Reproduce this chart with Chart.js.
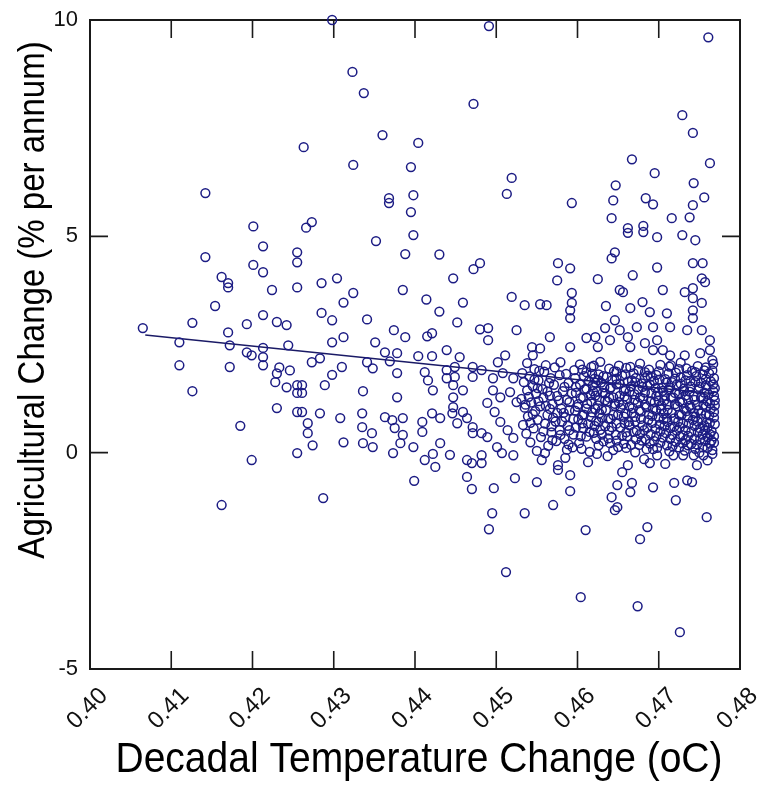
<!DOCTYPE html>
<html>
<head>
<meta charset="utf-8">
<title>Agricultural Change vs Decadal Temperature Change</title>
<script src="https://cdn.jsdelivr.net/npm/chart.js@4.4.1/dist/chart.umd.min.js"></script>
<style>
  html, body { margin: 0; padding: 0; background: #fff; }
  canvas { display: block; }
</style>
</head>
<body>
<canvas id="grafico" width="758" height="785"></canvas>
<script>
// =================== DADOS ===================
const xTickValues = [0.40, 0.41, 0.42, 0.43, 0.44, 0.45, 0.46, 0.47, 0.48];
const yTickValues = [-5, 0, 5, 10];
const xTitle = 'Decadal Temperature Change (oC)';
const yTitle = 'Agricultural Change (% per annum)';

// linha de tendência (extremos)
const fitTemp = [0.4068, 0.4768];
const fitAgri = [2.72, 1.36];

// pontos acima de zero, fora do aglomerado
const upperObs = [
  [0.4142, 6.00], [0.4201, 5.23], [0.4263, 7.06], [0.4298, 10.0], [0.4323, 8.80], [0.4337, 8.31],
  [0.4491, 9.86], [0.4472, 8.06], [0.4360, 7.34], [0.4404, 7.16], [0.4324, 6.65], [0.4395, 6.60],
  [0.4519, 6.35], [0.4513, 5.98], [0.4368, 5.88], [0.4368, 5.77], [0.4398, 5.95], [0.4395, 5.56],
  [0.4273, 5.33], [0.4266, 5.20], [0.4761, 9.60], [0.4729, 7.80], [0.4742, 7.39], [0.4667, 6.78],
  [0.4763, 6.69], [0.4695, 6.46], [0.4647, 6.18], [0.4743, 6.23], [0.4756, 5.90], [0.4593, 5.77],
  [0.4644, 5.83], [0.4684, 5.88], [0.4693, 5.74], [0.4742, 5.72], [0.4642, 5.42], [0.4716, 5.42],
  [0.4738, 5.44], [0.4662, 5.19], [0.4681, 5.24]
];

const westObs = [
  [0.4142, 4.52], [0.4162, 4.06], [0.4170, 3.92], [0.4170, 3.82], [0.4213, 4.77], [0.4201, 4.34],
  [0.4213, 4.17], [0.4224, 3.76], [0.4255, 4.63], [0.4255, 4.40], [0.4255, 3.82], [0.4154, 3.39],
  [0.4126, 3.00], [0.4193, 2.97], [0.4213, 3.18], [0.4230, 3.02], [0.4242, 2.95], [0.4065, 2.88],
  [0.4110, 2.55], [0.4170, 2.78], [0.4172, 2.48], [0.4193, 2.32], [0.4199, 2.25], [0.4213, 2.42],
  [0.4213, 2.21], [0.4213, 2.02], [0.4244, 2.48], [0.4233, 1.97], [0.4230, 1.83], [0.4246, 1.90],
  [0.4228, 1.63], [0.4242, 1.51], [0.4255, 1.56], [0.4255, 1.38], [0.4110, 2.02], [0.4172, 1.98],
  [0.4126, 1.42], [0.4230, 1.03], [0.4255, 0.94], [0.4185, 0.62]
];

const middleObs = [
  [0.4352, 4.89], [0.4398, 5.03], [0.4388, 4.59], [0.4430, 4.58], [0.4472, 4.24], [0.4480, 4.38],
  [0.4447, 4.03], [0.4285, 3.92], [0.4304, 4.03], [0.4385, 3.76], [0.4312, 3.47], [0.4324, 3.69],
  [0.4414, 3.54], [0.4459, 3.47], [0.4430, 3.26], [0.4519, 3.60], [0.4285, 3.23], [0.4298, 3.06],
  [0.4341, 3.08], [0.4452, 3.01], [0.4374, 2.83], [0.4388, 2.67], [0.4415, 2.69], [0.4421, 2.76],
  [0.4480, 2.85], [0.4490, 2.88], [0.4490, 2.60], [0.4525, 2.83], [0.4298, 2.55], [0.4312, 2.67],
  [0.4351, 2.55], [0.4273, 2.09], [0.4283, 2.18], [0.4341, 2.09], [0.4348, 1.95], [0.4363, 2.32],
  [0.4378, 2.30], [0.4369, 2.11], [0.4404, 2.23], [0.4421, 2.23], [0.4439, 2.37], [0.4455, 2.21],
  [0.4511, 2.25], [0.4502, 2.09], [0.4310, 1.98], [0.4298, 1.80], [0.4378, 1.84], [0.4412, 1.86],
  [0.4416, 1.67], [0.4422, 1.44], [0.4439, 1.91], [0.4439, 1.72], [0.4449, 1.98], [0.4449, 1.75],
  [0.4471, 1.98], [0.4482, 1.91], [0.4471, 1.75], [0.4496, 1.72], [0.4508, 1.84], [0.4521, 1.72],
  [0.4289, 1.56], [0.4336, 1.42], [0.4378, 1.28], [0.4447, 1.56], [0.4447, 1.28], [0.4459, 1.44],
  [0.4496, 1.44], [0.4505, 1.28], [0.4517, 1.40], [0.4525, 1.17], [0.4489, 1.15], [0.4447, 1.05],
  [0.4459, 0.94], [0.4261, 1.56], [0.4261, 1.38], [0.4261, 0.94], [0.4283, 0.91], [0.4268, 0.68],
  [0.4268, 0.45], [0.4308, 0.80], [0.4335, 0.91], [0.4335, 0.59], [0.4347, 0.45], [0.4363, 0.82],
  [0.4372, 0.75], [0.4385, 0.80], [0.4375, 0.57], [0.4385, 0.41], [0.4409, 0.71], [0.4409, 0.48],
  [0.4421, 0.91], [0.4431, 0.80], [0.4446, 0.91], [0.4452, 0.68], [0.4464, 0.80], [0.4471, 0.59],
  [0.4471, 0.45], [0.4482, 0.45], [0.4489, 0.36], [0.4498, 0.94], [0.4505, 0.71], [0.4514, 0.52],
  [0.4521, 0.34], [0.4312, 0.24], [0.4336, 0.22], [0.4348, 0.13], [0.4382, 0.22], [0.4398, 0.13],
  [0.4431, 0.22], [0.4501, 0.13], [0.4274, 0.17]
];

const eastObs = [
  [0.4662, 5.08], [0.4681, 5.10], [0.4698, 4.98], [0.4729, 5.03], [0.4745, 4.91], [0.4646, 4.63],
  [0.4642, 4.49], [0.4576, 4.38], [0.4591, 4.26], [0.4575, 3.98], [0.4625, 4.01], [0.4668, 4.10],
  [0.4698, 4.28], [0.4742, 4.38], [0.4754, 4.38], [0.4753, 4.03], [0.4757, 3.94], [0.4652, 3.76],
  [0.4656, 3.71], [0.4705, 3.76], [0.4732, 3.71], [0.4742, 3.80], [0.4742, 3.57], [0.4593, 3.69],
  [0.4593, 3.46], [0.4591, 3.29], [0.4591, 3.11], [0.4535, 3.41], [0.4554, 3.43], [0.4562, 3.41],
  [0.4635, 3.39], [0.4665, 3.34], [0.4680, 3.48], [0.4689, 3.25], [0.4710, 3.22], [0.4742, 3.29],
  [0.4753, 3.46], [0.4742, 3.11], [0.4646, 3.06], [0.4634, 2.88], [0.4652, 2.83], [0.4673, 2.90],
  [0.4693, 2.90], [0.4714, 2.90], [0.4735, 2.83], [0.4753, 2.83], [0.4763, 2.60], [0.4566, 2.67],
  [0.4544, 2.44], [0.4554, 2.41], [0.4545, 2.25], [0.4591, 2.44], [0.4611, 2.65], [0.4622, 2.67],
  [0.4625, 2.44], [0.4640, 2.60], [0.4662, 2.67], [0.4665, 2.44], [0.4683, 2.53], [0.4698, 2.60],
  [0.4693, 2.37], [0.4705, 2.37], [0.4714, 2.25], [0.4732, 2.25], [0.4751, 2.30], [0.4763, 2.37],
  [0.4766, 2.14]
];

// aglomerado denso à direita
const clusterObs = [
  [0.4538, 2.07], [0.4561, 2.02], [0.4579, 2.09], [0.4603, 2.04], [0.4628, 2.10], [0.4651, 2.01],
  [0.4677, 2.06], [0.4702, 2.03], [0.4727, 2.08], [0.4748, 2.00], [0.4767, 2.05],
  [0.4547, 1.93], [0.4572, 1.97], [0.4596, 1.91], [0.4617, 1.98], [0.4639, 1.94], [0.4660, 1.96],
  [0.4688, 1.92], [0.4713, 1.99], [0.4734, 1.95], [0.4756, 1.90],
  [0.4532, 1.84], [0.4559, 1.87], [0.4586, 1.82], [0.4611, 1.86], [0.4626, 1.81], [0.4645, 1.88],
  [0.4669, 1.83], [0.4683, 1.86], [0.4697, 1.80], [0.4721, 1.85], [0.4741, 1.89], [0.4762, 1.83],
  [0.4541, 1.76], [0.4567, 1.72], [0.4608, 1.77], [0.4621, 1.71], [0.4636, 1.75], [0.4655, 1.78],
  [0.4672, 1.73], [0.4690, 1.76], [0.4708, 1.70], [0.4727, 1.74], [0.4746, 1.77], [0.4768, 1.72],
  [0.4534, 1.63], [0.4552, 1.67], [0.4589, 1.61], [0.4614, 1.66], [0.4629, 1.62], [0.4643, 1.68],
  [0.4662, 1.64], [0.4679, 1.60], [0.4694, 1.66], [0.4716, 1.63], [0.4733, 1.67], [0.4752, 1.61],
  [0.4764, 1.65],
  [0.4545, 1.54], [0.4571, 1.57], [0.4598, 1.52], [0.4619, 1.56], [0.4633, 1.51], [0.4648, 1.58],
  [0.4666, 1.53], [0.4686, 1.55], [0.4704, 1.50], [0.4722, 1.57], [0.4739, 1.53], [0.4758, 1.56],
  [0.4538, 1.44], [0.4557, 1.47], [0.4582, 1.42], [0.4609, 1.46], [0.4624, 1.41], [0.4640, 1.48],
  [0.4657, 1.43], [0.4675, 1.46], [0.4699, 1.40], [0.4712, 1.45], [0.4731, 1.43], [0.4749, 1.47],
  [0.4767, 1.42],
  [0.4549, 1.36], [0.4566, 1.32], [0.4593, 1.37], [0.4616, 1.33], [0.4631, 1.38], [0.4652, 1.31],
  [0.4670, 1.35], [0.4691, 1.37], [0.4707, 1.32], [0.4725, 1.36], [0.4743, 1.30], [0.4761, 1.34],
  [0.4531, 1.24], [0.4558, 1.27], [0.4577, 1.21], [0.4604, 1.26], [0.4627, 1.22], [0.4644, 1.28],
  [0.4661, 1.23], [0.4681, 1.25], [0.4700, 1.20], [0.4718, 1.27], [0.4736, 1.23], [0.4755, 1.26],
  [0.4769, 1.21],
  [0.4543, 1.16], [0.4569, 1.12], [0.4590, 1.17], [0.4612, 1.13], [0.4637, 1.18], [0.4656, 1.11],
  [0.4674, 1.15], [0.4695, 1.17], [0.4711, 1.12], [0.4729, 1.16], [0.4747, 1.10], [0.4763, 1.14],
  [0.4535, 1.04], [0.4554, 1.07], [0.4580, 1.02], [0.4600, 1.06], [0.4622, 1.01], [0.4646, 1.08],
  [0.4668, 1.03], [0.4685, 1.05], [0.4703, 1.00], [0.4723, 1.07], [0.4740, 1.03], [0.4758, 1.06],
  [0.4548, 0.96], [0.4575, 0.92], [0.4597, 0.97], [0.4618, 0.93], [0.4635, 0.98], [0.4659, 0.91],
  [0.4678, 0.95], [0.4697, 0.97], [0.4716, 0.92], [0.4734, 0.96], [0.4752, 0.90], [0.4768, 0.94],
  [0.4539, 0.84], [0.4563, 0.87], [0.4585, 0.82], [0.4606, 0.86], [0.4630, 0.81], [0.4650, 0.88],
  [0.4671, 0.83], [0.4692, 0.85], [0.4710, 0.80], [0.4728, 0.87], [0.4745, 0.83], [0.4762, 0.86],
  [0.4551, 0.76], [0.4573, 0.72], [0.4601, 0.77], [0.4623, 0.73], [0.4641, 0.78], [0.4663, 0.71],
  [0.4687, 0.75], [0.4706, 0.77], [0.4724, 0.72], [0.4742, 0.76], [0.4759, 0.70],
  [0.4533, 0.64], [0.4560, 0.67], [0.4588, 0.62], [0.4613, 0.66], [0.4634, 0.61], [0.4658, 0.68],
  [0.4680, 0.63], [0.4701, 0.65], [0.4719, 0.60], [0.4737, 0.67], [0.4756, 0.63], [0.4769, 0.66],
  [0.4546, 0.56], [0.4578, 0.52], [0.4607, 0.57], [0.4628, 0.53], [0.4653, 0.58], [0.4673, 0.51],
  [0.4696, 0.55], [0.4714, 0.57], [0.4733, 0.52], [0.4751, 0.56], [0.4765, 0.50],
  [0.4537, 0.44], [0.4568, 0.47], [0.4595, 0.42], [0.4620, 0.46], [0.4647, 0.41], [0.4669, 0.48],
  [0.4690, 0.43], [0.4709, 0.45], [0.4730, 0.40], [0.4748, 0.47], [0.4763, 0.43],
  [0.4555, 0.36], [0.4584, 0.32], [0.4611, 0.37], [0.4638, 0.33], [0.4661, 0.38], [0.4684, 0.31],
  [0.4705, 0.35], [0.4726, 0.37], [0.4744, 0.32], [0.4760, 0.36],
  [0.4542, 0.24], [0.4574, 0.27], [0.4602, 0.22], [0.4632, 0.26], [0.4657, 0.21], [0.4679, 0.28],
  [0.4702, 0.23], [0.4721, 0.25], [0.4740, 0.20], [0.4757, 0.27], [0.4768, 0.23],
  [0.4564, 0.16], [0.4594, 0.12], [0.4626, 0.17], [0.4650, 0.13], [0.4676, 0.18], [0.4698, 0.11],
  [0.4717, 0.15], [0.4736, 0.17], [0.4754, 0.12],
  [0.4550, 0.04], [0.4587, 0.07], [0.4615, 0.02], [0.4644, 0.06], [0.4671, 0.01], [0.4693, 0.08],
  [0.4713, 0.03], [0.4732, 0.05], [0.4750, 0.00], [0.4766, 0.06]
];

// segunda camada do aglomerado (entre as fileiras acima)
const clusterObs2 = [
  [0.4620, 2.01], [0.4665, 1.98], [0.4715, 2.02], [0.4758, 1.97],
  [0.4553, 1.89], [0.4606, 1.92], [0.4648, 1.87], [0.4675, 1.91], [0.4700, 1.88], [0.4725, 1.93],
  [0.4745, 1.86], [0.4766, 1.90],
  [0.4578, 1.79], [0.4618, 1.82], [0.4632, 1.77], [0.4659, 1.81], [0.4686, 1.78], [0.4712, 1.83],
  [0.4735, 1.79], [0.4754, 1.81],
  [0.4547, 1.69], [0.4597, 1.72], [0.4625, 1.68], [0.4648, 1.71], [0.4667, 1.67], [0.4683, 1.72],
  [0.4701, 1.69], [0.4720, 1.71], [0.4739, 1.66], [0.4758, 1.70],
  [0.4565, 1.61], [0.4603, 1.58], [0.4622, 1.62], [0.4652, 1.59], [0.4671, 1.63], [0.4689, 1.58],
  [0.4709, 1.62], [0.4727, 1.59], [0.4745, 1.63], [0.4767, 1.58],
  [0.4551, 1.49], [0.4584, 1.52], [0.4611, 1.48], [0.4641, 1.51], [0.4659, 1.47], [0.4680, 1.52],
  [0.4696, 1.49], [0.4714, 1.51], [0.4731, 1.48], [0.4750, 1.52], [0.4769, 1.49],
  [0.4563, 1.41], [0.4598, 1.38], [0.4619, 1.42], [0.4634, 1.37], [0.4664, 1.41], [0.4683, 1.39],
  [0.4705, 1.43], [0.4720, 1.38], [0.4738, 1.41], [0.4756, 1.39],
  [0.4540, 1.29], [0.4575, 1.31], [0.4607, 1.28], [0.4622, 1.32], [0.4639, 1.27], [0.4658, 1.30],
  [0.4677, 1.28], [0.4697, 1.31], [0.4715, 1.27], [0.4733, 1.32], [0.4752, 1.28], [0.4768, 1.31],
  [0.4552, 1.19], [0.4587, 1.22], [0.4617, 1.18], [0.4634, 1.21], [0.4651, 1.17], [0.4670, 1.22],
  [0.4690, 1.19], [0.4707, 1.21], [0.4726, 1.18], [0.4744, 1.22], [0.4760, 1.19],
  [0.4536, 1.11], [0.4561, 1.08], [0.4601, 1.12], [0.4625, 1.09], [0.4646, 1.13], [0.4664, 1.07],
  [0.4683, 1.11], [0.4703, 1.09], [0.4720, 1.12], [0.4738, 1.08], [0.4755, 1.11], [0.4769, 1.09],
  [0.4566, 1.01], [0.4590, 0.98], [0.4611, 1.02], [0.4630, 0.99], [0.4653, 1.03], [0.4676, 0.98],
  [0.4693, 1.01], [0.4711, 0.99], [0.4731, 1.02], [0.4749, 0.98], [0.4764, 1.01],
  [0.4545, 0.89], [0.4583, 0.92], [0.4608, 0.88], [0.4627, 0.91], [0.4644, 0.87], [0.4667, 0.92],
  [0.4688, 0.89], [0.4706, 0.91], [0.4725, 0.88], [0.4743, 0.92], [0.4758, 0.89],
  [0.4570, 0.81], [0.4595, 0.78], [0.4617, 0.82], [0.4638, 0.79], [0.4657, 0.83], [0.4678, 0.78],
  [0.4700, 0.81], [0.4719, 0.79], [0.4736, 0.82], [0.4753, 0.78], [0.4768, 0.81],
  [0.4542, 0.69], [0.4581, 0.72], [0.4606, 0.68], [0.4626, 0.71], [0.4648, 0.67], [0.4671, 0.72],
  [0.4692, 0.69], [0.4711, 0.71], [0.4730, 0.68], [0.4748, 0.72], [0.4763, 0.69],
  [0.4568, 0.61], [0.4598, 0.58], [0.4621, 0.62], [0.4642, 0.59], [0.4664, 0.63], [0.4686, 0.58],
  [0.4707, 0.61], [0.4726, 0.59], [0.4744, 0.62], [0.4760, 0.58],
  [0.4558, 0.49], [0.4590, 0.52], [0.4615, 0.48], [0.4639, 0.51], [0.4660, 0.47], [0.4682, 0.52],
  [0.4702, 0.49], [0.4722, 0.51], [0.4740, 0.48], [0.4757, 0.52],
  [0.4579, 0.41], [0.4604, 0.38], [0.4630, 0.42], [0.4655, 0.39], [0.4677, 0.43], [0.4697, 0.38],
  [0.4717, 0.41], [0.4736, 0.39], [0.4754, 0.42], [0.4768, 0.38],
  [0.4569, 0.29], [0.4623, 0.32], [0.4648, 0.28], [0.4672, 0.31], [0.4694, 0.27], [0.4714, 0.32],
  [0.4733, 0.29], [0.4751, 0.31], [0.4765, 0.28],
  [0.4589, 0.19], [0.4640, 0.22], [0.4666, 0.18], [0.4689, 0.21], [0.4710, 0.17], [0.4729, 0.22],
  [0.4747, 0.19], [0.4763, 0.21],
  [0.4605, 0.09], [0.4660, 0.11], [0.4685, 0.08], [0.4725, 0.12], [0.4745, 0.09], [0.4760, 0.11],
  [0.4585, -0.12], [0.4613, -0.22], [0.4637, -0.08], [0.4682, -0.15], [0.4708, -0.26], [0.4760, -0.18]
];

// pontos abaixo de zero
const lowerObs = [
  [0.4199, -0.17], [0.4162, -1.21], [0.4255, -0.01], [0.4373, -0.01], [0.4287, -1.05], [0.4399, -0.65],
  [0.4412, -0.17], [0.4422, -0.03], [0.4425, -0.33], [0.4443, -0.05], [0.4464, -0.17], [0.4470, -0.24],
  [0.4482, -0.06], [0.4482, -0.24], [0.4464, -0.56], [0.4470, -0.84], [0.4497, -0.82], [0.4495, -1.40],
  [0.4491, -1.77], [0.4512, -2.76], [0.4507, -0.01], [0.4521, -0.06], [0.4523, -0.59], [0.4535, -1.40],
  [0.4550, -0.68], [0.4570, -1.21], [0.4591, -0.89], [0.4591, -0.52], [0.4576, -0.29], [0.4576, -0.40],
  [0.4556, -0.17], [0.4560, -0.01], [0.4624, -0.03], [0.4610, -1.79], [0.4604, -3.34], [0.4674, -3.55],
  [0.4726, -4.15], [0.4686, -1.72], [0.4677, -2.00], [0.4759, -1.49], [0.4721, -1.10], [0.4693, -0.80],
  [0.4719, -0.70], [0.4735, -0.64], [0.4741, -0.68], [0.4689, -0.24], [0.4698, -0.06], [0.4662, -0.29],
  [0.4655, -0.45], [0.4667, -0.70], [0.4649, -0.75], [0.4642, -1.03], [0.4665, -0.91], [0.4646, -1.33],
  [0.4649, -1.26], [0.4718, -0.06], [0.4730, -0.06], [0.4743, -0.06], [0.4755, -0.06], [0.4766, -0.03],
  [0.4747, -0.29]
];

// =================== ESTILO ===================
const fonte = '"Liberation Sans", Arial, sans-serif';
const corPonto = '#1c1c84';
const corLinha = '#1a1a66';

// moldura, marcas internas e títulos dos eixos
const moldura = {
  id: 'moldura',
  beforeDatasetsDraw(chart) {
    const { ctx, chartArea: a, scales: { x, y } } = chart;
    ctx.save();
    ctx.strokeStyle = '#1a1a1a';
    ctx.lineWidth = 2;
    ctx.strokeRect(a.left, a.top, a.right - a.left, a.bottom - a.top);
    ctx.lineWidth = 1.6;
    ctx.beginPath();
    xTickValues.forEach(v => {
      const px = x.getPixelForValue(v);
      ctx.moveTo(px, a.bottom); ctx.lineTo(px, a.bottom - 18);
      ctx.moveTo(px, a.top); ctx.lineTo(px, a.top + 18);
    });
    yTickValues.forEach(v => {
      const py = y.getPixelForValue(v);
      ctx.moveTo(a.left, py); ctx.lineTo(a.left + 18, py);
      ctx.moveTo(a.right, py); ctx.lineTo(a.right - 18, py);
    });
    ctx.stroke();
    ctx.restore();
  },
  afterDraw(chart) {
    const { ctx } = chart;
    ctx.save();
    ctx.fillStyle = '#000';
    ctx.textAlign = 'center';
    ctx.textBaseline = 'alphabetic';
    ctx.font = '39px ' + fonte;
    ctx.translate(419, 772);
    ctx.scale(1, 1.1);
    ctx.fillText(xTitle, 0, 0);
    ctx.restore();

    ctx.save();
    ctx.fillStyle = '#000';
    ctx.textAlign = 'center';
    ctx.textBaseline = 'alphabetic';
    ctx.font = '33px ' + fonte;
    ctx.translate(44, 300);
    ctx.rotate(-Math.PI / 2);
    ctx.scale(1, 1.1);
    ctx.fillText(yTitle, 0, 0);
    ctx.restore();
  }
};

const todasObs = [...upperObs, ...westObs, ...middleObs, ...eastObs, ...clusterObs, ...clusterObs2, ...lowerObs];

new Chart(document.getElementById('grafico'), {
  type: 'scatter',
  data: {
    datasets: [
      {
        label: 'observações',
        data: todasObs.map(([x, y]) => ({ x, y })),
        pointRadius: 4.4,
        pointBorderWidth: 1.5,
        borderColor: corPonto,
        backgroundColor: 'rgba(0,0,0,0)',
        clip: false
      },
      {
        type: 'line',
        label: 'tendência',
        data: fitTemp.map((x, i) => ({ x, y: fitAgri[i] })),
        borderColor: corLinha,
        borderWidth: 1.5,
        pointRadius: 0,
        fill: false
      }
    ]
  },
  options: {
    responsive: false,
    animation: false,
    devicePixelRatio: 1,
    events: [],
    layout: { padding: { top: 20, right: 18, left: 0, bottom: 0 } },
    plugins: { legend: { display: false }, tooltip: { enabled: false } },
    scales: {
      x: {
        type: 'linear',
        min: 0.40,
        max: 0.48,
        afterBuildTicks: s => { s.ticks = xTickValues.map(v => ({ value: v })); },
        afterFit: s => { s.height = 116; s.paddingLeft = 0; s.paddingRight = 0; },
        grid: { display: false, drawTicks: false },
        border: { display: false },
        ticks: {
          autoSkip: false,
          minRotation: 45,
          maxRotation: 45,
          padding: 13,
          labelOffset: 14,
          color: '#111',
          font: { family: fonte, size: 24 },
          callback: v => v.toFixed(2)
        }
      },
      y: {
        min: -5,
        max: 10,
        afterBuildTicks: s => { s.ticks = yTickValues.map(v => ({ value: v })); },
        afterFit: s => { s.width = 90; s.paddingTop = 0; s.paddingBottom = 0; },
        grid: { display: false, drawTicks: false },
        border: { display: false },
        ticks: {
          padding: 12,
          color: '#111',
          font: { family: fonte, size: 22 },
          callback: v => String(v)
        }
      }
    }
  },
  plugins: [moldura]
});
</script>
</body>
</html>
